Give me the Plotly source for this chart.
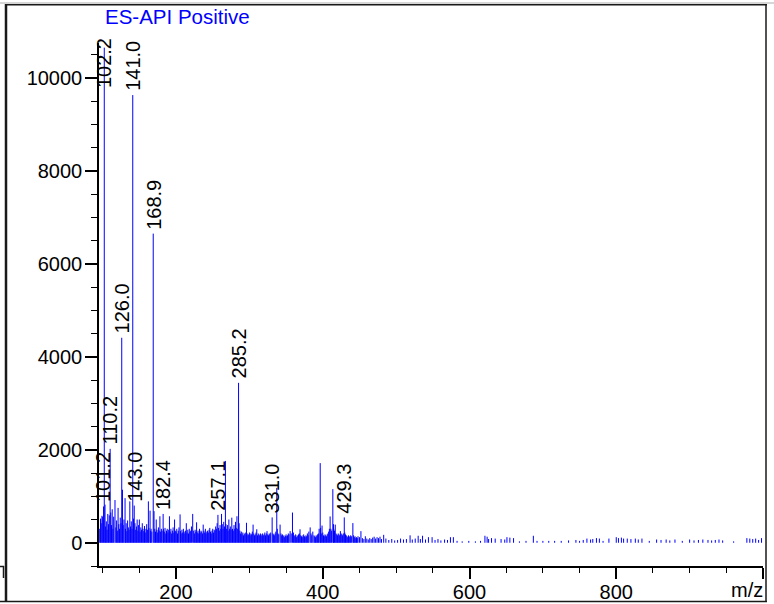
import plotly.graph_objects as go

# ---------------- data ----------------
title_text = "ES-API Positive"
x_label = "m/z"

mz = [96, 97, 98, 99, 100, 101.2, 102.2, 103.2, 104, 105, 106, 107, 108, 109, 110.2, 111, 112, 113, 114, 115,
      116.8, 118, 119, 120, 121, 122, 123, 124, 125, 126.0, 127, 128, 129, 130.5, 131, 132, 133, 134, 135, 136,
      137, 138, 139, 140, 141.0, 142, 143.0, 144, 145, 146, 147, 148, 149, 150, 151, 152, 153, 154, 155, 156,
      157, 158, 159, 160, 161, 162.3, 163, 164.6, 165, 166, 167, 168.9, 170, 171, 172, 173, 174, 175, 176, 177,
      178, 179, 180, 181, 182.4, 183, 184, 185, 186, 187, 188, 189, 190, 191, 192, 193, 194, 195, 196, 197,
      198, 199, 200, 201, 202, 203, 204, 205.5, 206, 207, 208, 209, 210, 211, 212, 213, 214, 215, 216, 217,
      218, 219, 220, 221, 222.7, 224, 225, 226, 227, 228, 229, 230, 231, 232, 233, 234, 235, 236, 237, 238,
      239, 240, 241, 242, 243, 244, 245, 246, 247, 248, 249, 250, 251, 252, 253, 254, 255, 256, 257.1, 258,
      259, 260, 261, 262, 263, 264, 265, 266, 267.3, 268, 269, 270, 271, 272, 273, 274, 275, 276, 277, 278,
      279, 280, 281, 282, 283, 284, 285.2, 286, 287, 288, 289, 290, 291, 292, 293, 294, 295, 296, 297, 298,
      299, 300, 301, 302, 303, 304, 305, 306, 307, 308, 309, 310, 311, 312, 313, 314, 315, 316, 317, 318,
      319, 320, 321, 322, 323, 324, 325, 326, 327, 328, 329, 331.0, 332, 333, 334, 335, 336, 337.3, 338, 339,
      340, 341.8, 343, 344, 345, 346, 347, 348, 349, 350, 351, 352, 353, 354, 355.5, 357, 358.7, 360, 361, 362,
      363, 364, 365, 366, 367, 368, 369, 370, 371, 372, 373, 374, 375, 376, 377, 378, 379, 380, 381, 382.8,
      384, 385, 386.4, 388, 389, 390, 391, 392, 393, 394, 395, 396.5, 397, 398, 399, 400, 401, 402, 403, 404,
      405, 406, 407, 408, 409, 410, 411, 412, 413.7, 414.6, 415, 416, 417, 418, 419, 420, 421, 422, 423, 424,
      425, 426, 427, 428, 429.3, 430, 431, 432, 433, 434, 435, 436, 437, 438, 439, 441, 442, 443, 444, 445,
      446, 447, 448, 450, 452, 454, 456, 458, 460, 462, 464, 466, 468, 470, 472, 474, 476, 478, 480, 483,
      486, 490, 494, 498, 502, 506, 510, 514, 519, 522, 526, 530, 533, 536, 540, 544, 549, 553, 557, 561,
      566, 570, 574, 578, 583, 590, 599, 608, 615, 621, 624, 626, 630, 635, 643, 648, 651, 655, 660, 668,
      677, 687, 692, 700, 708, 716, 725, 735, 745, 750, 755, 760, 765, 768, 773, 777, 782, 790, 800, 803,
      807, 810, 815, 820, 826, 830, 835, 845, 855, 861, 868, 873, 880, 890, 900, 906, 912, 918, 925, 930,
      935, 940, 945, 960, 978, 982, 986, 990, 994, 998]

intensity = [300, 520, 420, 580, 560, 780, 10650, 820, 350, 460, 280, 620, 400, 590, 2020, 650, 380, 720, 300, 560,
             920, 330, 480, 260, 750, 400, 300, 540, 420, 4410, 1140, 380, 500, 960, 300, 420, 250, 480, 330, 280,
             890, 350, 460, 300, 9630, 520, 800, 420, 280, 350, 500, 260, 380, 500, 240, 330, 280, 420, 300, 250,
             360, 220, 300, 400, 280, 890, 320, 690, 260, 300, 240, 6650, 680, 300, 240, 500, 280, 220, 330, 260,
             570, 240, 300, 260, 620, 300, 240, 320, 200, 260, 300, 220, 280, 570, 240, 300, 200, 260, 330, 220,
             500, 260, 240, 300, 200, 260, 330, 610, 250, 200, 280, 220, 300, 240, 200, 260, 420, 220, 280, 200,
             300, 240, 260, 350, 620, 260, 200, 280, 240, 440, 220, 260, 200, 300, 220, 260, 240, 200, 390, 260,
             220, 300, 200, 240, 260, 220, 280, 320, 240, 200, 260, 300, 220, 280, 260, 350, 300, 420, 600, 320,
             260, 380, 300, 620, 400, 300, 450, 350, 1760, 400, 300, 380, 260, 500, 300, 350, 280, 540, 300, 260,
             380, 300, 450, 320, 570, 300, 3440, 420, 260, 200, 240, 180, 220, 160, 200, 180, 220, 430, 200, 160,
             180, 220, 160, 200, 180, 240, 390, 200, 160, 180, 220, 290, 160, 200, 180, 160, 200, 180, 150, 200,
             160, 180, 220, 160, 200, 250, 180, 160, 200, 180, 220, 545, 200, 180, 160, 200, 240, 1180, 300, 200,
             180, 390, 200, 160, 180, 140, 160, 120, 150, 180, 140, 160, 200, 180, 250, 200, 650, 220, 160, 140,
             180, 120, 160, 140, 180, 200, 290, 160, 140, 120, 160, 180, 140, 120, 160, 140, 200, 160, 240, 330,
             200, 160, 240, 160, 140, 120, 160, 140, 180, 200, 300, 1713, 320, 200, 370, 220, 160, 140, 180, 160,
             140, 180, 200, 240, 300, 566, 300, 260, 1154, 400, 300, 260, 390, 200, 180, 160, 200, 180, 160, 250,
             200, 180, 160, 200, 545, 220, 180, 160, 140, 120, 160, 140, 120, 160, 140, 423, 160, 120, 140, 100,
             120, 100, 140, 120, 250, 100, 80, 140, 90, 70, 100, 80, 110, 130, 90, 120, 100, 130, 80, 170,
             90, 60, 80, 50, 60, 90, 70, 80, 160, 70, 90, 150, 80, 150, 70, 120, 120, 60, 80, 50,
             70, 60, 120, 120, 40, 30, 40, 30, 40, 150, 130, 80, 100, 90, 80, 70, 120, 110, 100, 30,
             40, 150, 40, 40, 40, 40, 40, 50, 60, 40, 60, 90, 70, 80, 100, 90, 40, 90, 120, 100,
             110, 90, 90, 80, 90, 70, 90, 40, 70, 60, 70, 50, 70, 40, 70, 50, 60, 70, 60, 50,
             60, 70, 50, 30, 100, 90, 80, 90, 60, 100]

label_mz = [101.2, 102.2, 110.2, 126.0, 141.0, 143.0, 168.9, 182.4, 257.1, 285.2, 331.0, 429.3]
label_text = ["101.2", "102.2", "110.2", "126.0", "141.0", "143.0", "168.9", "182.4", "257.1", "285.2", "331.0", "429.3"]

x_tickvals = [200, 400, 600, 800, 1000]
x_ticktext = ["200", "400", "600", "800", ""]
y_tickvals = [0, 2000, 4000, 6000, 8000, 10000]
y_ticktext = ["0", "2000", "4000", "6000", "8000", "10000"]

X_RANGE = [95, 1000]
Y_RANGE = [-500, 10750]
LABEL_CAP = 9700

# ---------------- figure ----------------
FONT = "Liberation Sans, Arial, sans-serif"
BLUE = "rgb(0,0,255)"

sx, sy = [], []
for m, v in zip(mz, intensity):
    sx += [m, m, None]
    sy += [0, v, None]

fig = go.Figure()
fig.add_trace(go.Scatter(x=sx, y=sy, mode="lines", line=dict(color=BLUE, width=1),
                         hoverinfo="skip", showlegend=False))

lookup = dict(zip(mz, intensity))
for m, t in zip(label_mz, label_text):
    v = lookup[m]
    fig.add_annotation(x=m, y=min(v, LABEL_CAP), text=t, textangle=-90, showarrow=False,
                       xanchor="center", yanchor="bottom", yshift=2,
                       font=dict(family=FONT, size=20, color="black"))

W, H = 774, 604
L, R, T, B = 99, 11, 43, 38
pw, ph = W - L - R, H - T - B


def px(xp):
    return (xp - L) / pw


def py(yp):
    return (H - B - yp) / ph


fig.add_annotation(xref="paper", yref="paper", x=px(103), y=py(3), xanchor="left", yanchor="top",
                   text=title_text, showarrow=False, font=dict(family=FONT, size=20.5, color=BLUE))
fig.add_annotation(xref="paper", yref="paper", x=px(765), y=py(577), xanchor="right", yanchor="top",
                   text=x_label, showarrow=False, font=dict(family=FONT, size=20, color="black"))

frame = "rgb(25,25,25)"
shapes = [
    dict(type="line", xref="paper", yref="paper", x0=px(0), x1=px(774), y0=py(3), y1=py(3),
         line=dict(color="rgb(200,200,200)", width=1.5)),
    dict(type="line", xref="paper", yref="paper", x0=px(5), x1=px(767), y0=py(4.8), y1=py(4.8),
         line=dict(color=frame, width=1.5)),
    dict(type="line", xref="paper", yref="paper", x0=px(6), x1=px(6), y0=py(4), y1=py(602),
         line=dict(color=frame, width=2.5)),
    dict(type="line", xref="paper", yref="paper", x0=px(766), x1=px(766), y0=py(4), y1=py(602),
         line=dict(color=frame, width=1.5)),
    dict(type="line", xref="paper", yref="paper", x0=px(0), x1=px(767), y0=py(601.5), y1=py(601.5),
         line=dict(color=frame, width=1.5)),
    dict(type="line", xref="paper", yref="paper", x0=px(0), x1=px(4), y0=py(566.5), y1=py(566.5),
         line=dict(color=frame, width=1.5)),
    dict(type="line", xref="paper", yref="paper", x0=px(3.5), x1=px(3.5), y0=py(566), y1=py(578),
         line=dict(color=frame, width=1.5)),
]
fig.update_layout(shapes=shapes)

fig.update_layout(
    width=W, height=H,
    margin=dict(l=L, r=R, t=T, b=B, pad=0, autoexpand=False),
    paper_bgcolor="white", plot_bgcolor="white",
    font=dict(family=FONT, size=20, color="black"),
    showlegend=False,
    xaxis=dict(range=X_RANGE, tickvals=x_tickvals, ticktext=x_ticktext, showgrid=False, zeroline=False,
               automargin=False,
               showline=True, linecolor="black", linewidth=1.5, ticks="outside", ticklen=11,
               tickwidth=1.5, tickcolor="black", tickfont=dict(family=FONT, size=20, color="black"),
               ticklabelstandoff=-4,
               minor=dict(ticks="outside", ticklen=5, tickwidth=1, tickcolor="black", dtick=50, tick0=0,
                          showgrid=False)),
    yaxis=dict(range=Y_RANGE, tickvals=y_tickvals, ticktext=y_ticktext, showgrid=False, zeroline=False,
               automargin=False,
               showline=True, linecolor="black", linewidth=1.5, ticks="outside", ticklen=12,
               tickwidth=1.5, tickcolor="black", tickfont=dict(family=FONT, size=20, color="black"),
               ticklabelstandoff=-1,
               minor=dict(ticks="outside", ticklen=6, tickwidth=1, tickcolor="black", dtick=500, tick0=0,
                          showgrid=False)),
)

fig.write_html(
    "out.html",
    config={"displayModeBar": False, "responsive": False},
    post_script=(
        "var s=document.createElement('style');"
        "s.textContent='html,body{margin:0!important;padding:0!important;overflow:hidden!important;"
        "width:774px;height:604px;}';"
        "document.head.appendChild(s);"
    ),
)
